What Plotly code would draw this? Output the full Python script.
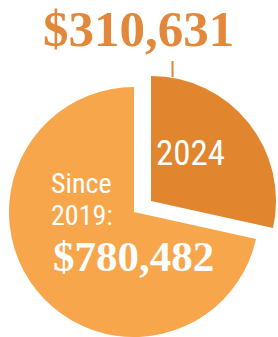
import plotly.graph_objects as go

W, H = 278, 337

# Data
labels = ["2024", "Since 2019"]
values = [310631, 780482]
title_value = "$310,631"
total_label_lines = ["Since", "2019:"]
total_value = "$780,482"

LIGHT = "#F8A64B"
DARK = "#E1852F"
TRANSPARENT = "rgba(0,0,0,0)"


def px(x):
    return x / W


def py(y):
    return 1 - y / H


R = 125
main_c = (134, 212)
pull_c = (151, 201)

fig = go.Figure()

fig.add_trace(go.Pie(
    labels=labels, values=values, sort=False, direction="clockwise", rotation=0,
    marker=dict(colors=[TRANSPARENT, LIGHT], line=dict(width=0)),
    textinfo="none", hoverinfo="skip", showlegend=False,
    domain=dict(x=[px(main_c[0] - R), px(main_c[0] + R)],
                y=[max(0, py(main_c[1] + R)), py(main_c[1] - R)]),
))
fig.add_trace(go.Pie(
    labels=labels, values=values, sort=False, direction="clockwise", rotation=0,
    marker=dict(colors=[DARK, TRANSPARENT], line=dict(width=0)),
    textinfo="none", hoverinfo="skip", showlegend=False,
    domain=dict(x=[px(pull_c[0] - R), px(pull_c[0] + R)],
                y=[py(pull_c[1] + R), py(pull_c[1] - R)]),
))

serif = "Liberation Serif"
narrow = "Roboto Condensed, Liberation Sans"

ann = [
    dict(text=title_value, x=px(138.5), y=py(29.5), xanchor="center", yanchor="middle",
         font=dict(family=serif, size=51, color="#E3873A", weight="bold")),
    dict(text=labels[0], x=px(191), y=py(153), xanchor="center", yanchor="middle",
         font=dict(family=narrow, size=35, color="white")),
    dict(text=total_label_lines[0], x=px(50), y=py(183), xanchor="left", yanchor="middle",
         font=dict(family=narrow, size=28, color="white")),
    dict(text=total_label_lines[1], x=px(50), y=py(215), xanchor="left", yanchor="middle",
         font=dict(family=narrow, size=28, color="white")),
    dict(text=total_value, x=px(133), y=py(256.5), xanchor="center", yanchor="middle",
         font=dict(family=serif, size=43, color="white", weight="bold")),
]
for a in ann:
    a.update(xref="paper", yref="paper", showarrow=False, borderpad=0)

fig.update_layout(
    width=W, height=H, margin=dict(l=0, r=0, t=0, b=0),
    paper_bgcolor="white", plot_bgcolor="white",
    annotations=ann,
    shapes=[dict(type="line", xref="paper", yref="paper",
                 x0=px(172.5), x1=px(172.5), y0=py(61), y1=py(77),
                 line=dict(color=DARK, width=2))],
)

fig.write_html("out.html", config={"displayModeBar": False},
               post_script="document.body.style.margin='0';")
